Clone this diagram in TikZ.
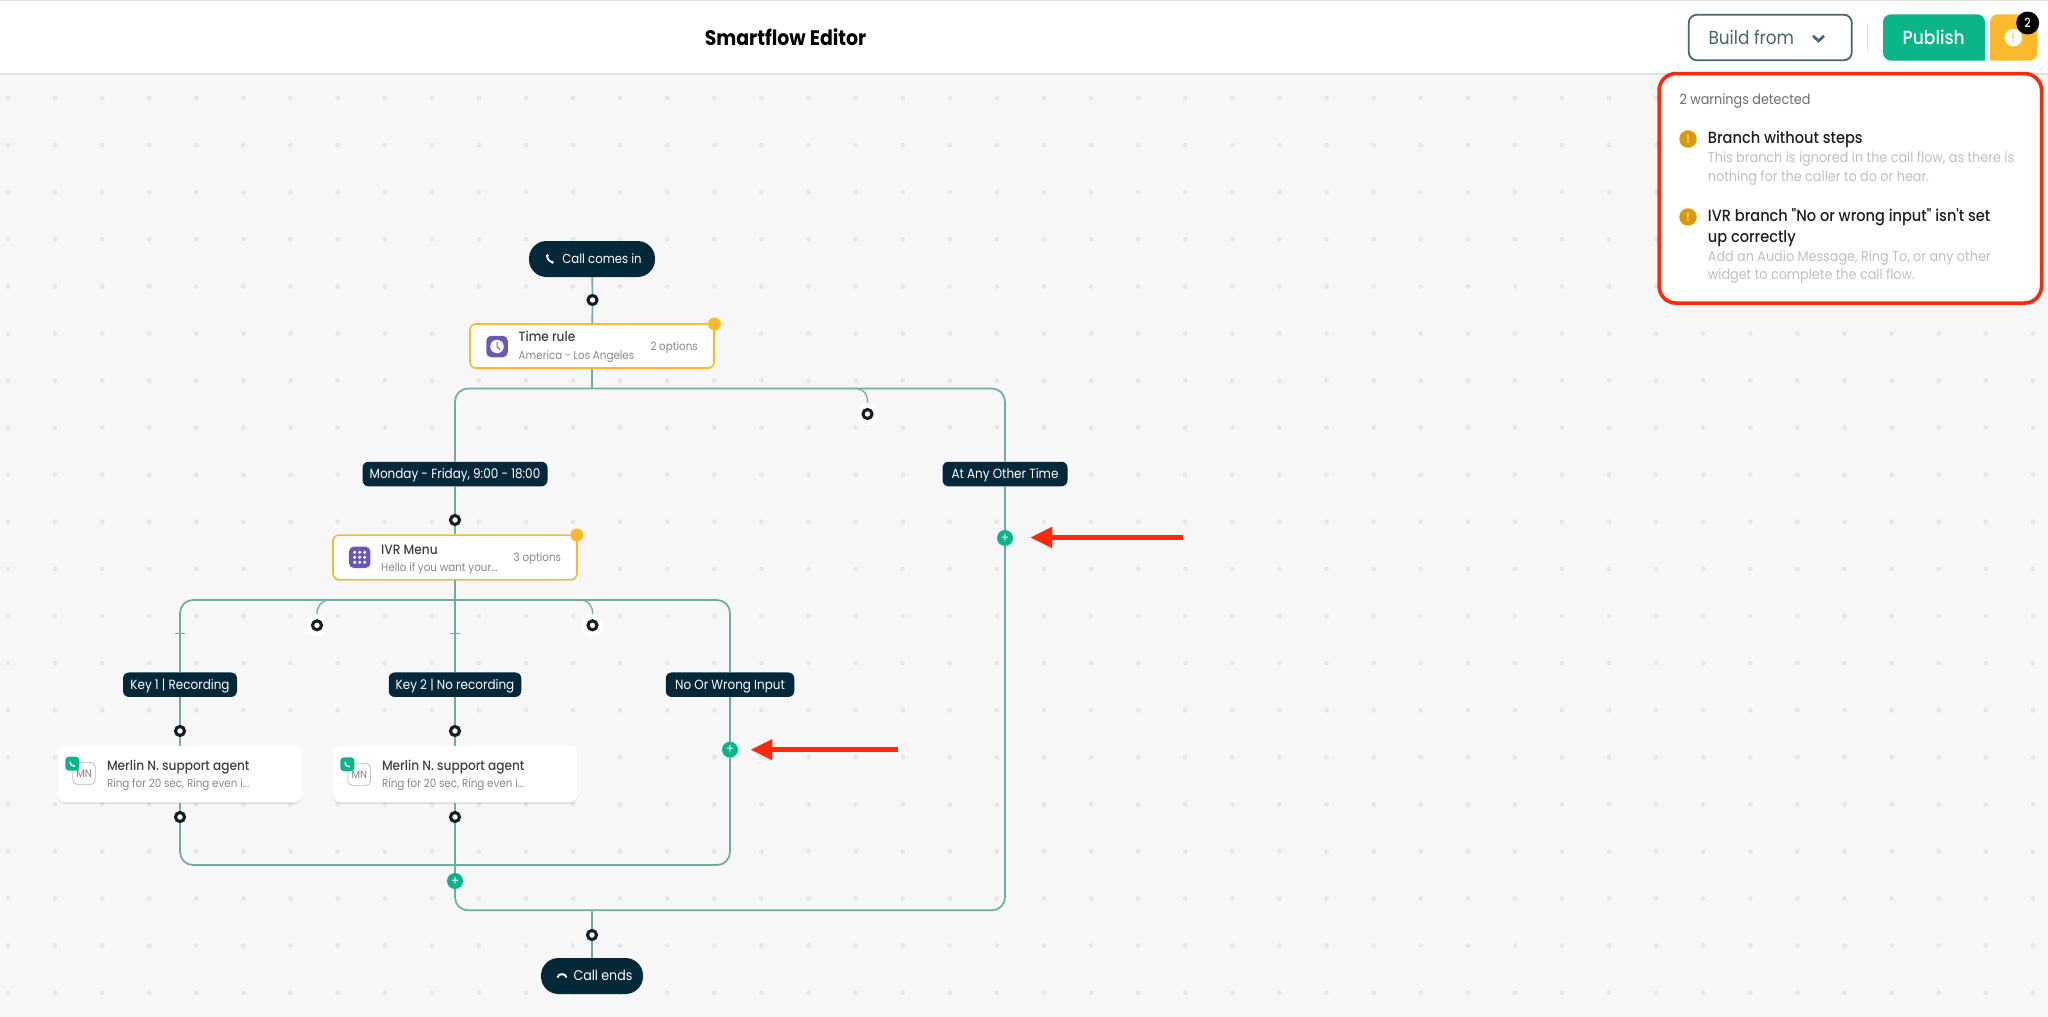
\documentclass[tikz,border=0pt]{standalone}
\usepackage{fontspec}
\setmainfont[FakeStretch=0.9]{Poppins}
\newfontfamily\medfont[FakeStretch=0.9]{Poppins Medium}
\usetikzlibrary{shadows}
\definecolor{canvasbg}{HTML}{F7F7F7}
\definecolor{griddot}{HTML}{E5E7E7}
\definecolor{headline}{HTML}{E2E2E2}
\definecolor{navy}{HTML}{03283A}
\definecolor{flowteal}{HTML}{6EAEA1}
\definecolor{mint}{HTML}{0AB58A}
\definecolor{amber}{HTML}{FDB92C}
\definecolor{ochre}{HTML}{D89A0C}
\definecolor{violet}{HTML}{6A58B8}
\definecolor{alert}{HTML}{FA2A0A}
\definecolor{ringink}{HTML}{141E28}
\definecolor{slate}{HTML}{4A6472}
\definecolor{bodygrey}{HTML}{858888}
\definecolor{faint}{HTML}{BEC0C0}
\tikzset{
  softshadow/.style={drop shadow={shadow xshift=0pt,shadow yshift=-1.5pt,opacity=.10,fill=black}},
  pillnode/.style={rectangle,rounded corners=17.5pt,fill=navy,text=white,inner sep=0,
    minimum height=36pt,text height=12pt,text depth=3pt,font=\fontsize{13}{15}\selectfont},
  flowlabel/.style={rectangle,rounded corners=6pt,fill=navy,text=white,inner sep=0,
    minimum height=24.5pt,text height=12pt,text depth=3pt,font=\fontsize{13.3}{15}\selectfont},
  rulebox/.style={rectangle,rounded corners=6pt,draw=amber,line width=1.6pt,fill=white,inner sep=0,softshadow},
  agentbox/.style={rectangle,rounded corners=8pt,fill=white,inner sep=0,minimum width=245pt,minimum height=56.5pt,softshadow},
  ringdot/.style={circle,draw=ringink,fill=white,line width=3.1pt,inner sep=0,minimum size=9pt},
  halodot/.style={circle,fill=white,inner sep=0,minimum size=22pt},
  plusdot/.style={circle,fill=mint,text=white,inner sep=0,minimum size=16pt,font=\fontsize{13}{13}\selectfont},
  cornerdot/.style={circle,fill=amber,inner sep=0,minimum size=13pt},
  flowline/.style={draw=flowteal,line width=1.7pt},
  redarrow/.style={draw=alert,line width=4.6pt},
  headtext/.style={anchor=west,inner sep=0,text=black!75,text height=12.5pt,text depth=3pt,font=\medfont\fontsize{13.5}{15}\selectfont},
  subtext/.style={anchor=west,inner sep=0,text=bodygrey,text height=11.5pt,text depth=3pt,font=\fontsize{11.5}{14}\selectfont},
  warntitle/.style={anchor=west,inner sep=0,align=left,text=black!88,font=\medfont\fontsize{16.2}{21}\selectfont},
  warnbody/.style={anchor=west,inner sep=0,align=left,text=faint,font=\fontsize{14.2}{18.4}\selectfont},
  warnicon/.style={circle,fill=ochre,text=white!75!ochre,inner sep=0,minimum size=17.5pt,font=\medfont\fontsize{12}{12}\selectfont},
  avatar/.style={rectangle,rounded corners=5pt,draw=black!25,line width=.8pt,fill=white,inner sep=0,minimum size=22.5pt,
    text=black!50,font=\fontsize{11}{11}\selectfont},
  badge/.style={rectangle,rounded corners=3.5pt,fill=mint,inner sep=0,minimum size=14pt},
  appicon/.style={rectangle,rounded corners=5pt,fill=violet,inner sep=0,minimum size=21.5pt},
}
\begin{document}
\begin{tikzpicture}[x=1pt,y=-1pt]
    \useasboundingbox (0,0) rectangle (2048,1017);

    % Canvas and header
    \fill[canvasbg] (0,0) rectangle (2048,1017);
    \foreach \row in {0,...,19}
        \foreach \col in {0,...,43}
            \fill[griddot] (8+47.09*\col,98+47.09*\row) circle (2.4pt);
    \fill[white] (0,0) rectangle (2048,74);
    \draw[headline,line width=1.5pt] (0,.7) -- (2048,.7);
    \draw[headline,line width=1.5pt] (0,74) -- (2048,74);
    \node[inner sep=0,text=black,font=\bfseries\fontsize{21}{24}\selectfont] (title) at (785.5,37.3) {Smartflow Editor};

    % Header buttons
    \node[rectangle,rounded corners=8pt,draw=slate,line width=1.8pt,fill=white,inner sep=0,minimum width=163pt,minimum height=45.5pt] (buildbtn) at (1770.3,37.5) {};
    \node[anchor=west,inner sep=0,text=slate,font=\fontsize{18.8}{22}\selectfont] (buildtext) at (1708.3,37) {Build from};
    \draw[slate,line width=2.7pt] (1813,35.8) -- (1818.5,41) -- (1824,35.8);
    \draw[headline,line width=1.5pt] (1867.7,24) -- (1867.7,51.7);
    \fill[mint] (1985,14.3) -- (1985,60.7) [rounded corners=8pt] -- (1883,60.7) -- (1883,14.3) -- cycle;
    \node[inner sep=0,text=white,font=\medfont\fontsize{19}{22}\selectfont] (publish) at (1933.7,37) {Publish};
    \fill[amber] (1990,14.3) -- (1990,60.7) [rounded corners=8pt] -- (2037.3,60.7) -- (2037.3,14.3) -- cycle;
    \node[circle,fill=white,text=amber!85,inner sep=0,minimum size=17.5pt,font=\medfont\fontsize{13}{13}\selectfont] (warnmark) at (2013.3,37.7) {!};
    \node[circle,fill=black,text=white,inner sep=0,minimum size=23pt,font=\medfont\fontsize{12.5}{12.5}\selectfont] (warncount) at (2027.7,23) {2};

    % Warnings panel
    \node[rectangle,rounded corners=17pt,draw=alert,line width=3.6pt,fill=white,inner sep=0,minimum width=382.5pt,minimum height=229.5pt,softshadow] (panel) at (1850.3,188.3) {};
    \node[anchor=west,inner sep=0,text=black!58,font=\fontsize{14.2}{17}\selectfont] (panelhead) at (1679.3,100.8) {2 warnings detected};
    \node[warnicon] (warnA) at (1688,139) {!};
    \node[warntitle] (warnAtitle) at (1707.7,139) {Branch without steps};
    \node[warnbody] (warnAbody) at (1707.7,168.3) {This branch is ignored in the call flow, as there is\\nothing for the caller to do or hear.};
    \node[warnicon] (warnB) at (1688,217) {!};
    \node[warntitle] (warnBtitle) at (1707.7,227.5) {IVR branch "No or wrong input" isn't set\\up correctly};
    \node[warnbody] (warnBbody) at (1707.7,267.3) {Add an Audio Message, Ring To, or any other\\widget to complete the call flow.};

    % Nodes
    \node[pillnode,minimum width=126pt] (comes) at (592,259) {\hspace{20pt}Call comes in};
    \node[ringdot] (ringA) at (592.5,300) {};
    \node[rulebox,minimum width=244pt,minimum height=44pt] (timerule) at (592,346) {};
    \node[cornerdot] (timedot) at (714.4,324) {};
    \node[appicon] (timeicon) at (497,346.5) {};
    \node[circle,fill=white,inner sep=0,minimum size=13.5pt] (timeface) at (497,346.5) {};
    \node[headtext] (timetitle) at (518.5,337) {Time rule};
    \node[subtext] (timesub) at (518.5,355.7) {America - Los Angeles};
    \node[subtext,anchor=east] (timeopts) at (698,346.7) {2 options};

    \node[halodot] (stubA) at (867.5,414) {};
    \node[ringdot] (stubAring) at (867.5,414) {};
    \node[flowlabel,minimum width=185pt] (monday) at (455,474) {Monday - Friday, 9:00 - 18:00};
    \node[flowlabel,minimum width=125pt] (other) at (1005,474) {At Any Other Time};
    \node[ringdot] (ringB) at (455,520) {};
    \node[plusdot] (plusA) at (1005,538) {+};

    \node[rulebox,minimum width=244pt,minimum height=44.5pt] (ivr) at (455,557.3) {};
    \node[cornerdot] (ivrdot) at (576.8,535) {};
    \node[appicon] (ivricon) at (359.7,557.3) {};
    \node[headtext] (ivrtitle) at (381,549.3) {IVR Menu};
    \node[subtext] (ivrsub) at (381,567.3) {Hello if you want your...};
    \node[subtext,anchor=east] (ivropts) at (561.3,557) {3 options};

    \node[halodot] (stubB) at (317,625.3) {};
    \node[ringdot] (stubBring) at (317,625.3) {};
    \node[halodot] (stubC) at (592.5,625.3) {};
    \node[ringdot] (stubCring) at (592.5,625.3) {};
    \node[flowlabel,minimum width=114pt] (keyone) at (180,684.7) {Key 1 | Recording};
    \node[flowlabel,minimum width=132.5pt] (keytwo) at (455,684.7) {Key 2 | No recording};
    \node[flowlabel,minimum width=128.5pt] (nokey) at (730,684.7) {No Or Wrong Input};
    \node[ringdot] (ringC) at (180,731) {};
    \node[ringdot] (ringD) at (455,731) {};
    \node[plusdot] (plusB) at (730,749.7) {+};

    \node[agentbox] (agentA) at (180,774.2) {};
    \node[avatar] (avatarA) at (84,773.4) {MN};
    \node[badge] (badgeA) at (72.4,763.7) {};
    \node[headtext] (agentAtitle) at (106.8,765.7) {Merlin N. support agent};
    \node[subtext] (agentAsub) at (106.8,783) {Ring for 20 sec, Ring even i...};
    \node[agentbox] (agentB) at (455,774.2) {};
    \node[avatar] (avatarB) at (359.3,774.4) {MN};
    \node[badge] (badgeB) at (347.4,764.3) {};
    \node[headtext] (agentBtitle) at (381.8,765.7) {Merlin N. support agent};
    \node[subtext] (agentBsub) at (381.8,783) {Ring for 20 sec, Ring even i...};

    \node[ringdot] (ringE) at (180,817) {};
    \node[ringdot] (ringF) at (455,817) {};
    \node[plusdot] (plusC) at (455,881) {+};
    \node[ringdot] (ringG) at (592,935) {};
    \node[pillnode,minimum width=102pt,font=\fontsize{14}{16}\selectfont] (ends) at (592,976) {\hspace{22pt}Call ends};

    % Corners and joins
    \coordinate (topL) at (455,388.5);
    \coordinate (topM) at (592,388.5);
    \coordinate (topR) at (1005,388.5);
    \coordinate (midL) at (180,600);
    \coordinate (midM) at (455,600);
    \coordinate (midR) at (730,600);
    \coordinate (lowL) at (180,865);
    \coordinate (lowM) at (455,865);
    \coordinate (lowR) at (730,865);
    \coordinate (endL) at (455,910.3);
    \coordinate (endM) at (592,910.3);
    \coordinate (endR) at (1005,910.3);

    % Arrows
    \draw[flowline] (comes) -- (ringA);
    \draw[flowline] (ringA) -- (timerule);
    \draw[flowline] (timerule) -- (topM);
    \draw[flowline,rounded corners=13pt] (monday) -- (topL) -- (topR) -- (other);
    \draw[flowline] (monday) -- (ringB);
    \draw[flowline] (ringB) -- (ivr);
    \draw[flowline] (other) -- (plusA);
    \draw[flowline,rounded corners=13pt] (plusA) -- (endR) -- (endL) -- (plusC);
    \draw[flowline] (ivr) -- (midM);
    \draw[flowline,rounded corners=13pt] (keyone) -- (midL) -- (midR) -- (nokey);
    \draw[flowline] (midM) -- (keytwo);
    \draw[flowline] (keyone) -- (ringC);
    \draw[flowline] (ringC) -- (agentA);
    \draw[flowline] (agentA) -- (ringE);
    \draw[flowline] (keytwo) -- (ringD);
    \draw[flowline] (ringD) -- (agentB);
    \draw[flowline] (agentB) -- (ringF);
    \draw[flowline] (ringF) -- (plusC);
    \draw[flowline] (nokey) -- (plusB);
    \draw[flowline,rounded corners=13pt] (ringE) -- (lowL) -- (lowR) -- (plusB);
    \draw[flowline] (endM) -- (ringG);
    \draw[flowline] (ringG) -- (ends);
    \draw[flowline,line width=1.3pt] (856,388.5) .. controls (863,388.5) and (868,394) .. (stubA.north);
    \draw[flowline,line width=1.3pt] (329,600) .. controls (322,600) and (317,606) .. (stubB.north);
    \draw[flowline,line width=1.3pt] (581,600) .. controls (588,600) and (593,606) .. (stubC.north);
    \draw[flowline,line width=1pt] (175,633.3) -- (185,633.3);
    \draw[flowline,line width=1pt] (450,633.3) -- (460,633.3);

    % Red arrows
    \coordinate (plusAtip) at (1030.7,537.5);
    \coordinate (plusBtip) at (751,749.7);
    \draw[redarrow] (1183.3,537.5) -- (1050,537.5);
    \fill[alert] (plusAtip) -- (1052.3,526.7) -- (1052.3,548.3) -- cycle;
    \draw[redarrow] (897.7,749.7) -- (770,749.7);
    \fill[alert] (plusBtip) -- (772.3,739) -- (772.3,760.3) -- cycle;

    % Little icons
    \draw[white,line width=1.7pt,line cap=round] (547,255.5) .. controls (547.5,259.5) and (549.5,262) .. (552.5,262.5);
    \fill[white] (547.3,255.8) circle (1.6pt) (552.2,262.2) circle (1.6pt);
    \draw[white,line width=1.9pt] (557.5,977.5) .. controls (558.5,973) and (565.5,973) .. (566.5,977.5);
    \draw[violet,line width=1pt] (497,342) -- (497,347) -- (500,349.5);
    \foreach \dx in {-5,0,5}
        \foreach \dy in {-5,0,5}
            \fill[white] (359.7+\dx,557.3+\dy) circle (1.7pt);
    \foreach \bx/\by in {72.4/763.7,347.4/764.3}
        \draw[white,line width=1.4pt] (\bx-2.5,\by-2) .. controls (\bx-2.5,\by+1) and (\bx-.5,\by+2.5) .. (\bx+2.5,\by+2.5);
\end{tikzpicture}
\end{document}
